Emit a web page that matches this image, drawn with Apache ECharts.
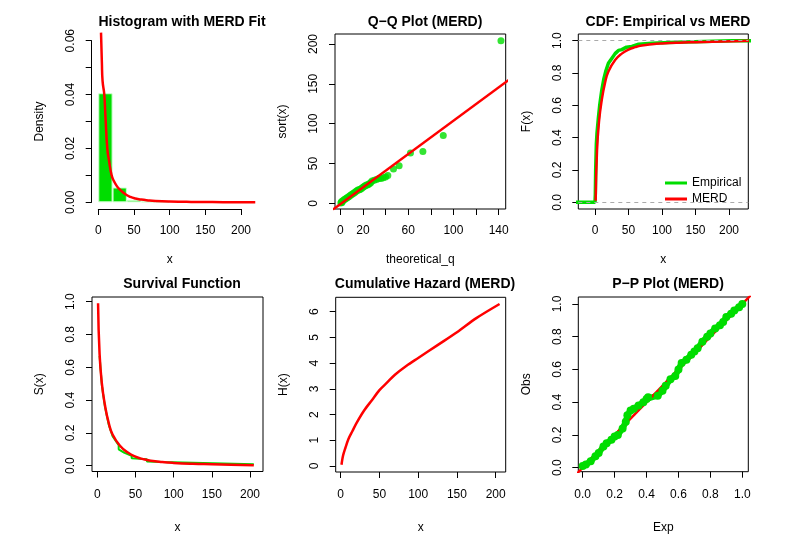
<!DOCTYPE html>
<html><head><meta charset="utf-8">
<script src="https://cdn.jsdelivr.net/npm/echarts@6/dist/echarts.min.js"></script>
<style>html,body{margin:0;padding:0;background:#fff}#c{width:786px;height:540px}</style>
</head><body><div id="c"></div>
<script>
// ---------- data ----------
const histMid = [10, 30, 50, 70, 90, 210];
const histDensity = [0.0405, 0.0055, 0.0009, 0.0003, 0.00025, 0.00025];
const densX = [3.8, 5, 6, 8.4, 10, 12.6, 15, 18.7, 22, 26, 30, 38, 45, 52, 60, 70, 80, 100, 130, 160, 190, 220];
const densY = [0.063, 0.052, 0.045, 0.040, 0.032, 0.020, 0.0155, 0.010, 0.0078, 0.006, 0.0048, 0.003, 0.002, 0.0014, 0.001, 0.0007, 0.0005, 0.0003, 0.00015, 0.00008, 0.00004, 0.00002];
const qqTheo = [0.5,1,1.5,2,3,4,5,6,7,8,9,10,11,12,13,14,15,16,17,18,19,20,21,22,23,24,25,26,27,28,30,32,34,36,38,40,42,47,52,62,73,91,142];
const qqSample = [0.5,2,1,3,4,5,6,7,8,9,10,11,12,13,14,15,16,17,17,18,19,20,21,22,23,23,24,25,26,28,29,30,31,31,32,33,35,43,47,63,65,85,204];
const qqLineX = [-10, 160];
const qqLineY = [-11.5, 166.5];
const ecdfX = [-40, 0, 0.5, 1, 2, 3, 5, 7, 10, 13, 16, 20, 25, 30, 35, 40, 47, 55, 65, 85, 120, 205, 260];
const ecdfY = [0, 0, 0.05, 0.2, 0.36, 0.43, 0.52, 0.6, 0.69, 0.76, 0.81, 0.86, 0.89, 0.92, 0.94, 0.945, 0.96, 0.965, 0.978, 0.985, 0.99, 1, 1];
const fitX = [1,3,6,10,15,20,30,40,50,60,70,85,100,125,150,175,205];
const survMERD = [0.99,0.68,0.50,0.37,0.26,0.19,0.12,0.08,0.055,0.04,0.03,0.022,0.017,0.012,0.009,0.006,0.003];
const hazMERD = [0.05,0.4,0.7,1.05,1.35,1.65,2.15,2.55,2.95,3.25,3.55,3.9,4.2,4.7,5.2,5.75,6.3];
const survEmpX = [3,6,10,15,20,28,28,35,35,45,45,65,65,85,85,205];
const survEmpY = [0.67,0.49,0.36,0.25,0.18,0.125,0.1,0.08,0.07,0.06,0.045,0.04,0.025,0.022,0.013,0.009];
const ppExp = [0,0.02,0.05,0.08,0.1,0.13,0.15,0.18,0.2,0.22,0.25,0.27,0.28,0.3,0.32,0.35,0.38,0.4,0.41,0.47,0.5,0.52,0.55,0.58,0.6,0.62,0.65,0.68,0.7,0.72,0.75,0.78,0.8,0.83,0.86,0.88,0.9,0.93,0.95,0.98,1.0];
const ppObs = [0.01,0.02,0.04,0.07,0.09,0.13,0.15,0.17,0.19,0.2,0.24,0.28,0.32,0.35,0.36,0.38,0.4,0.42,0.43,0.44,0.47,0.5,0.54,0.56,0.6,0.64,0.66,0.69,0.71,0.73,0.77,0.8,0.82,0.85,0.87,0.89,0.92,0.94,0.96,0.98,1.0];
const ppLine = [-0.1, 1.1];

// ---------- helpers ----------
const GREEN = '#00dd00', RED = '#ff0000', F = 'Liberation Sans, Arial, sans-serif';
function rng(p0, v0, p1, v1, eA, eB) { const k = (v1 - v0) / (p1 - p0); return [v0 + (eA - p0) * k, v0 + (eB - p0) * k]; }
const grids = [], xAxes = [], yAxes = [], series = [], titles = [];
function addGrid(l, r, t, b, box) {
  grids.push({left: l, top: t, width: r - l, height: b - t, show: !!box, borderColor: '#000', borderWidth: 1, backgroundColor: 'transparent'});
  return grids.length - 1;
}
function ax(gi, mm, ticks, labels, dec, name, gap, isY, line, margin) {
  const o = {type: 'value', gridIndex: gi, min: mm[0], max: mm[1], scale: true,
    position: isY ? 'left' : 'bottom',
    axisLine: {show: !!line, onZero: false, lineStyle: {color: '#000', width: 1}},
    axisTick: ticks ? {show: true, length: 6, customValues: ticks, lineStyle: {color: '#000'}} : {show: false},
    axisLabel: labels ? {show: true, customValues: labels, color: '#000', fontSize: 12, fontFamily: F, margin: margin,
      rotate: isY ? 90 : 0, formatter: v => Number(v).toFixed(dec)} : {show: false},
    splitLine: {show: false}};
  if (name) { o.name = name; o.nameLocation = 'middle'; o.nameGap = gap; o.nameTextStyle = {color: '#000', fontSize: 12, fontFamily: F}; }
  (isY ? yAxes : xAxes).push(o);
}
function title(text, cx, y) { titles.push({text, left: cx, top: y, textAlign: 'center', textStyle: {fontSize: 14, fontWeight: 'bold', color: '#000', fontFamily: F}}); }
const zip = (a, b) => a.map((v, i) => [v, b[i]]);
const ticks = (a, b, s) => { const r = []; for (let v = a; v <= b + 1e-9; v += s) r.push(+v.toFixed(6)); return r; };

// ---------- Panel 1: histogram ----------
let g = addGrid(91.7, 263, 34, 209, false);
ax(g, rng(98.3, 0, 241, 200, 91.7, 263), null, null, 0, null, 0, false, false);
ax(g, rng(202.3, 0, 40.7, 0.06, 209, 34), null, null, 2, null, 0, true, false);
series.push({type: 'bar', xAxisIndex: g, yAxisIndex: g, data: zip(histMid, histDensity), barWidth: 14.3,
  itemStyle: {color: GREEN, borderColor: '#ccffcc', borderWidth: 1}, silent: true});
series.push({type: 'line', name: 'dens', xAxisIndex: g, yAxisIndex: g, data: zip(densX, densY), smooth: true, symbol: 'none', clip: false,
  lineStyle: {color: RED, width: 2.5}});
let gx = addGrid(98.3, 241, 34, 209, false);
ax(gx, [0, 200], ticks(0, 200, 50), ticks(0, 200, 50), 0, 'x', 45, false, true, 16);
ax(gx, [0, 1], null, null, 0, null, 0, true, false);
let gy = addGrid(91.7, 263, 40.7, 202.3, false);
ax(gy, [0, 1], null, null, 0, null, 0, false, false);
ax(gy, [0, 0.06], ticks(0, 0.06, 0.01), ticks(0, 0.06, 0.02), 2, 'Density', 46, true, true, 15);
title('Histogram with MERD Fit', 177, 10);

// ---------- Panel 2: Q-Q ----------
g = addGrid(335, 505.7, 34, 209, true);
ax(g, rng(340.3, 0, 498.7, 140, 335, 505.7), ticks(0, 140, 20), [0, 20, 60, 100, 140], 0, 'theoretical_q', 45, false, false, 16);
ax(g, rng(203.3, 0, 44, 200, 209, 34), ticks(0, 200, 50), ticks(0, 200, 50), 0, 'sort(x)', 46, true, false, 15);
series.push({type: 'scatter', xAxisIndex: g, yAxisIndex: g, data: zip(qqTheo, qqSample), symbolSize: 7, itemStyle: {color: GREEN}, silent: true});
series.push({type: 'line', name: 'qq', xAxisIndex: g, yAxisIndex: g, data: zip(qqLineX, qqLineY), symbol: 'none', lineStyle: {color: RED, width: 2.5}});
title('Q\u2212Q Plot (MERD)', 420, 10);

// ---------- Panel 3: CDF ----------
g = addGrid(578.3, 748.3, 34, 209, true);
ax(g, rng(595, 0, 729, 200, 578.3, 748.3), ticks(0, 200, 50), ticks(0, 200, 50), 0, 'x', 45, false, false, 16);
ax(g, rng(202.3, 0, 40.7, 1, 209, 34), ticks(0, 1, 0.2), ticks(0, 1, 0.2), 1, 'F(x)', 46, true, false, 15);
series.push({type: 'line', name: 'Empirical', xAxisIndex: g, yAxisIndex: g, data: zip(ecdfX, ecdfY), symbol: 'none',
  lineStyle: {color: GREEN, width: 3.5}, itemStyle: {color: GREEN},
  markLine: {silent: true, symbol: 'none', label: {show: false}, lineStyle: {color: '#aaa', type: [4, 4], width: 1}, data: [{yAxis: 0}, {yAxis: 1}]}});
series.push({type: 'line', name: 'MERD', xAxisIndex: g, yAxisIndex: g, data: fitX.map((x, i) => [x, 1 - survMERD[i]]).concat([[230, 0.999]]), smooth: true, symbol: 'none',
  lineStyle: {color: RED, width: 2.5}, itemStyle: {color: RED}});
title('CDF: Empirical vs MERD', 663, 10);

// ---------- Panel 4: Survival ----------
g = addGrid(92, 263, 297, 471.5, true);
ax(g, rng(97.3, 0, 250, 200, 92, 263), ticks(0, 200, 50), ticks(0, 200, 50), 0, 'x', 50, false, false, 17);
ax(g, rng(465.7, 0, 301.7, 1, 471.5, 297), ticks(0, 1, 0.2), ticks(0, 1, 0.2), 1, 'S(x)', 46, true, false, 15);
series.push({type: 'line', name: 'semp', xAxisIndex: g, yAxisIndex: g, data: zip(survEmpX, survEmpY), symbol: 'none', lineStyle: {color: GREEN, width: 2}});
series.push({type: 'line', name: 'surv', xAxisIndex: g, yAxisIndex: g, data: zip(fitX, survMERD), smooth: true, symbol: 'none', lineStyle: {color: RED, width: 2.5}});
title('Survival Function', 177, 272);

// ---------- Panel 5: Cumulative hazard ----------
g = addGrid(335.7, 505.7, 297.3, 472, true);
ax(g, rng(340.7, 0, 495.7, 200, 335.7, 505.7), ticks(0, 200, 50), ticks(0, 200, 50), 0, 'x', 50, false, false, 17);
ax(g, rng(466, 0, 311.7, 6, 472, 297.3), ticks(0, 6, 1), ticks(0, 6, 1), 0, 'H(x)', 46, true, false, 15);
series.push({type: 'line', name: 'haz', xAxisIndex: g, yAxisIndex: g, data: zip(fitX, hazMERD), smooth: 0.3, symbol: 'none', lineStyle: {color: RED, width: 2.5}});
title('Cumulative Hazard (MERD)', 420, 272);

// ---------- Panel 6: P-P ----------
g = addGrid(578.3, 748.3, 297, 471.7, true);
ax(g, rng(582.7, 0, 742.3, 1, 578.3, 748.3), ticks(0, 1, 0.2), ticks(0, 1, 0.2), 1, 'Exp', 50, false, false, 17);
ax(g, rng(467.7, 0, 304, 1, 471.7, 297), ticks(0, 1, 0.2), ticks(0, 1, 0.2), 1, 'Obs', 46, true, false, 15);
series.push({type: 'line', name: 'ppl', xAxisIndex: g, yAxisIndex: g, data: zip(ppExp, ppObs), symbol: 'circle', symbolSize: 8, itemStyle: {color: GREEN}, lineStyle: {color: GREEN, width: 6}, silent: true});
series.push({type: 'line', name: 'ppr', xAxisIndex: g, yAxisIndex: g, data: zip(ppLine, ppLine), symbol: 'none', lineStyle: {color: RED, width: 2.5}});
title('P\u2212P Plot (MERD)', 663, 272);

const chart = echarts.init(document.getElementById('c'), null, {renderer: 'canvas'});
chart.setOption({
  animation: false, backgroundColor: '#fff', title: titles, grid: grids, xAxis: xAxes, yAxis: yAxes, series,
  legend: {data: ['Empirical', 'MERD'], orient: 'vertical', left: 660, top: 172, itemWidth: 22, itemHeight: 3, itemGap: 4,
    textStyle: {fontSize: 12, fontFamily: F, color: '#000'}, icon: 'rect', selectedMode: false}
});
</script></body></html>
